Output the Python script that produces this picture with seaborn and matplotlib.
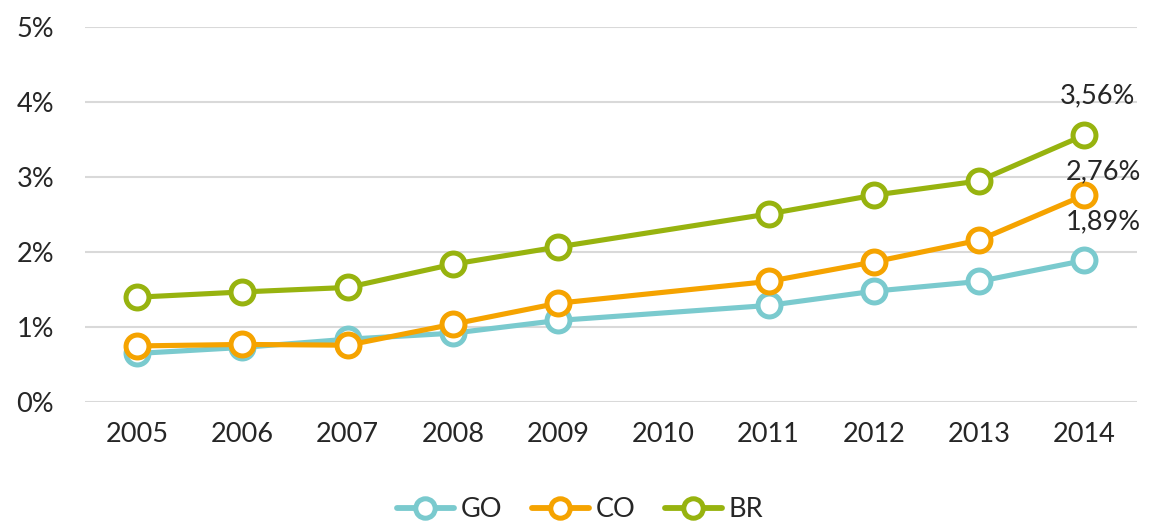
import matplotlib
matplotlib.use("Agg")
import matplotlib.pyplot as plt
import numpy as np
import pandas as pd
import seaborn as sns
from matplotlib.lines import Line2D
from matplotlib.ticker import FuncFormatter

# data (percent); 2010 has no values
years = ["2005", "2006", "2007", "2008", "2009", "2010", "2011", "2012", "2013", "2014"]
go_vals = [0.65, 0.73, 0.84, 0.92, 1.09, np.nan, 1.29, 1.48, 1.61, 1.89]
co_vals = [0.75, 0.77, 0.76, 1.04, 1.32, np.nan, 1.61, 1.87, 2.16, 2.76]
br_vals = [1.40, 1.47, 1.53, 1.84, 2.07, np.nan, 2.51, 2.76, 2.95, 3.56]
series_names = ["GO", "CO", "BR"]
end_labels = ["1,89%", "2,76%", "3,56%"]
colors = {"GO": "#7ACACE", "CO": "#F5A300", "BR": "#97B30F"}

df = pd.DataFrame({"pos": range(len(years)), "year": years,
                   "GO": go_vals, "CO": co_vals, "BR": br_vals})
long_df = df.melt(id_vars=["pos", "year"], value_vars=series_names,
                  var_name="serie", value_name="valor").dropna()

sns.set_style("white")
plt.rcParams["font.family"] = ["Lato", "DejaVu Sans"]
fs = 19.5

fig = plt.figure(figsize=(11.6, 5.23), dpi=100)
ax = fig.add_axes([0.073, 0.231, 0.907, 0.717])

for name in series_names:
    sub = long_df[long_df.serie == name]
    sns.lineplot(data=sub, x="pos", y="valor", color=colors[name], linewidth=3.7,
                 marker="o", markersize=16.5, markerfacecolor="white",
                 markeredgecolor=colors[name], markeredgewidth=3.6,
                 legend=False, ax=ax, zorder=3)

# end-point labels
last = len(years) - 1
ax.text(last + 0.13, 3.56 + 0.52, end_labels[2], ha="center", va="center", fontsize=fs)
ax.text(last + 0.18, 2.76 + 0.31, end_labels[1], ha="center", va="center", fontsize=fs)
ax.text(last + 0.18, 1.89 + 0.52, end_labels[0], ha="center", va="center", fontsize=fs)

ax.set_xlim(-0.5, len(years) - 0.5)
ax.set_ylim(0, 5)
ax.set_xticks(range(len(years)))
ax.set_xticklabels(years)
ax.set_yticks(range(0, 6))
ax.yaxis.set_major_formatter(FuncFormatter(lambda v, p: f"{int(v)}%"))
ax.tick_params(axis="both", labelsize=fs, length=0)
ax.tick_params(axis="x", pad=14)
ax.tick_params(axis="y", pad=22)
ax.set_xlabel("")
ax.set_ylabel("")
ax.grid(axis="y", color="#D9D9D9", linewidth=1.5, zorder=0)
ax.set_axisbelow(True)
sns.despine(ax=ax, left=True, bottom=True)

handles = [Line2D([0], [0], color=colors[n], linewidth=4.2, marker="o", markersize=14,
                  markerfacecolor="white", markeredgecolor=colors[n], markeredgewidth=3.6)
           for n in series_names]
fig.legend(handles, series_names, loc="center", bbox_to_anchor=(0.5, 0.025), ncol=3,
           frameon=False, fontsize=fs, handlelength=2.1, columnspacing=1.1,
           handletextpad=0.25)

plt.savefig("out.png", dpi=100)
plt.close()
